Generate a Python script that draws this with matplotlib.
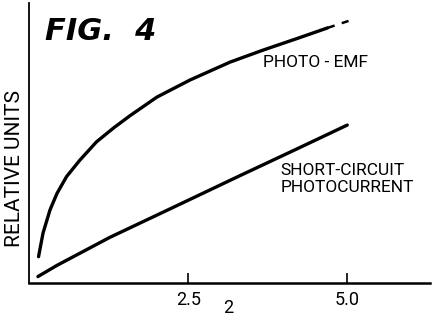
import matplotlib
matplotlib.use("Agg")
import matplotlib.pyplot as plt

# curve data (relative units)
emf_x = [0.15, 0.22, 0.33, 0.44, 0.59, 0.80, 1.06, 1.33, 1.59, 2.01, 2.53, 3.16, 3.68, 4.21, 4.69]
emf_y = [0.94, 1.78, 2.61, 3.20, 3.80, 4.39, 5.04, 5.54, 5.98, 6.64, 7.25, 7.89, 8.32, 8.73, 9.11]
emf_ext_x = [4.69, 5.02]
emf_ext_y = [9.11, 9.36]

sc_x = [0.14, 0.44, 1.27, 2.33, 3.32, 4.21, 5.00]
sc_y = [0.23, 0.63, 1.63, 2.77, 3.84, 4.79, 5.64]

xticks = [2.5, 5.0]
xticklabels = ["2.5", "5.0"]

font = ["Roboto", "DejaVu Sans"]

fig = plt.figure(figsize=(4.35, 3.21), dpi=100)
ax = fig.add_axes([29 / 435, 38 / 321, 401 / 435, 280 / 321])

ax.plot(emf_x, emf_y, color="black", lw=2.4, solid_capstyle="round")
ax.plot(emf_ext_x, emf_ext_y, color="black", lw=1.8, dashes=(3, 3))
ax.plot(sc_x, sc_y, color="black", lw=2.4, solid_capstyle="round")

ax.set_xlim(0, 6.3)
ax.set_ylim(0, 10)
ax.spines["top"].set_visible(False)
ax.spines["right"].set_visible(False)
ax.spines["left"].set_linewidth(1.3)
ax.spines["bottom"].set_linewidth(1.8)

ax.set_xticks(xticks)
ax.set_xticklabels(xticklabels, fontsize=13, family=font)
ax.tick_params(axis="x", direction="in", length=7, width=1.2, pad=6)
ax.set_yticks([])

ax.text((228 - 29) / 401, -0.088, "2", transform=ax.transAxes, ha="center", va="center",
        fontsize=13, family=font)
ax.text(-0.037, 0.41, "RELATIVE UNITS", transform=ax.transAxes, rotation=90,
        ha="center", va="center", fontsize=15, family=font)

ax.text(0.25, 9.0, "FIG.  4", fontsize=22, style="italic", weight="bold",
        ha="left", va="center")
ax.text(4.5, 7.86, "PHOTO - EMF", fontsize=12.5, family=font, ha="center", va="center")
ax.text(3.95, 3.71, "SHORT-CIRCUIT\nPHOTOCURRENT", fontsize=12.5, family=font,
        ha="left", va="center", linespacing=1.2)

fig.savefig("out.png", dpi=100)
